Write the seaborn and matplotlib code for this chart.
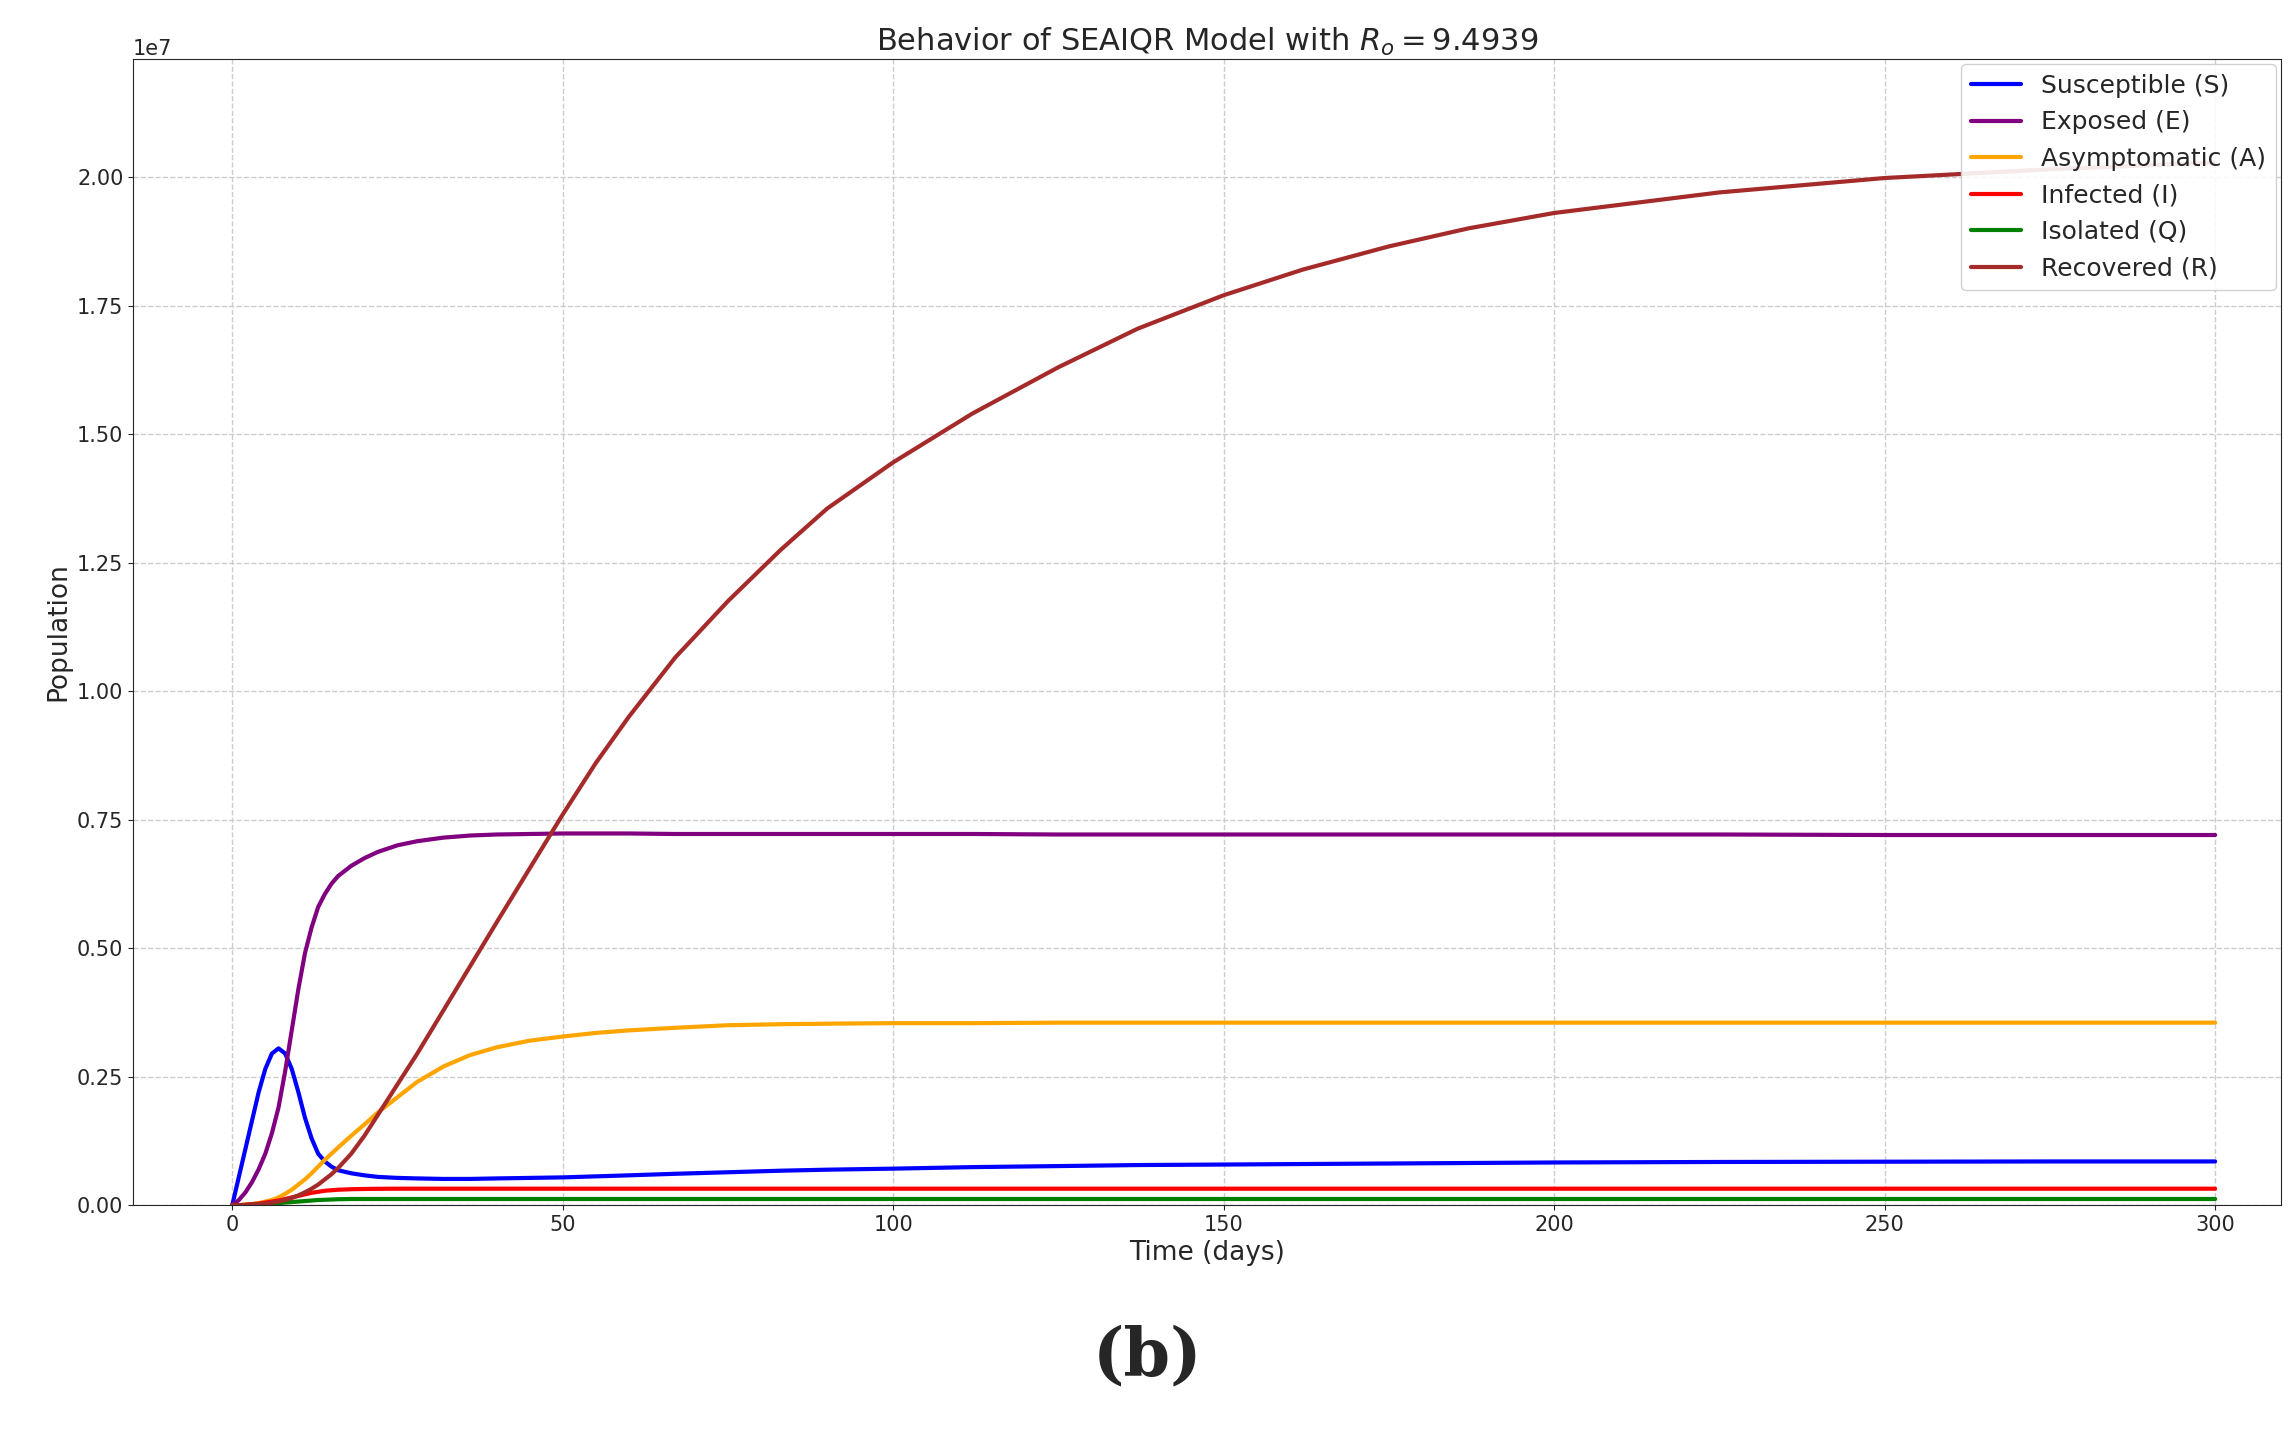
import matplotlib
matplotlib.use("Agg")
import matplotlib.pyplot as plt
import seaborn as sns
import pandas as pd

t = [0, 1, 2, 3, 4, 5, 6, 7, 8, 9, 10, 11, 12, 13, 14, 15, 16, 18, 20, 22, 25, 28, 32, 36, 40, 45, 50, 55, 60, 67, 75, 83, 90, 100, 112, 125, 137, 150, 162, 175, 187, 200, 225, 250, 275, 300]
S = [0.0, 0.55, 1.1, 1.65, 2.2, 2.65, 2.95, 3.05, 2.95, 2.65, 2.2, 1.7, 1.3, 1.0, 0.85, 0.75, 0.68, 0.62, 0.58, 0.55, 0.53, 0.52, 0.51, 0.51, 0.52, 0.53, 0.54, 0.56, 0.58, 0.61, 0.64, 0.67, 0.69, 0.71, 0.74, 0.76, 0.78, 0.79, 0.80, 0.81, 0.82, 0.83, 0.84, 0.845, 0.85, 0.85]
E = [0.0, 0.1, 0.25, 0.45, 0.7, 1.0, 1.4, 1.9, 2.6, 3.4, 4.2, 4.9, 5.4, 5.8, 6.05, 6.25, 6.4, 6.6, 6.75, 6.87, 7.0, 7.08, 7.15, 7.19, 7.21, 7.22, 7.23, 7.23, 7.23, 7.22, 7.22, 7.22, 7.22, 7.22, 7.22, 7.21, 7.21, 7.21, 7.21, 7.21, 7.21, 7.21, 7.21, 7.20, 7.20, 7.20]
A = [0.0, 0.0, 0.01, 0.02, 0.04, 0.07, 0.1, 0.15, 0.22, 0.3, 0.4, 0.5, 0.62, 0.75, 0.88, 1.0, 1.12, 1.35, 1.57, 1.8, 2.1, 2.4, 2.7, 2.92, 3.07, 3.2, 3.28, 3.35, 3.4, 3.45, 3.5, 3.52, 3.53, 3.54, 3.54, 3.55, 3.55, 3.55, 3.55, 3.55, 3.55, 3.55, 3.55, 3.55, 3.55, 3.55]
I = [0.0, 0.0, 0.01, 0.02, 0.03, 0.05, 0.07, 0.09, 0.12, 0.15, 0.18, 0.21, 0.24, 0.26, 0.28, 0.29, 0.30, 0.31, 0.315, 0.318, 0.32, 0.32, 0.32, 0.32, 0.32, 0.32, 0.32, 0.32, 0.32, 0.32, 0.32, 0.32, 0.32, 0.32, 0.32, 0.32, 0.32, 0.32, 0.32, 0.32, 0.32, 0.32, 0.32, 0.32, 0.32, 0.32]
Q = [0.0, 0.0, 0.0, 0.01, 0.01, 0.02, 0.03, 0.04, 0.05, 0.06, 0.07, 0.08, 0.09, 0.1, 0.105, 0.11, 0.115, 0.12, 0.12, 0.12, 0.12, 0.12, 0.12, 0.12, 0.12, 0.12, 0.12, 0.12, 0.12, 0.12, 0.12, 0.12, 0.12, 0.12, 0.12, 0.12, 0.12, 0.12, 0.12, 0.12, 0.12, 0.12, 0.12, 0.12, 0.12, 0.12]
R = [0.0, 0.0, 0.0, 0.01, 0.02, 0.03, 0.05, 0.07, 0.1, 0.14, 0.19, 0.25, 0.32, 0.4, 0.5, 0.6, 0.72, 1.0, 1.35, 1.75, 2.35, 2.95, 3.8, 4.65, 5.5, 6.55, 7.6, 8.6, 9.5, 10.65, 11.75, 12.75, 13.55, 14.45, 15.4, 16.3, 17.05, 17.7, 18.2, 18.65, 19.0, 19.3, 19.7, 19.98, 20.15, 20.28]

series = [("Susceptible (S)", S, "blue"), ("Exposed (E)", E, "purple"),
          ("Asymptomatic (A)", A, "orange"), ("Infected (I)", I, "red"),
          ("Isolated (Q)", Q, "green"), ("Recovered (R)", R, "brown")]

sns.set_style("ticks")
plt.rcParams['font.family'] = ['DejaVu Sans']
fig = plt.figure(figsize=(22.95, 14.33), dpi=100)
ax = fig.add_axes([0.058, 0.159, 0.936, 0.8])
for name, vals, c in series:
    df = pd.DataFrame({"t": t, "v": [v * 1e6 for v in vals]})
    sns.lineplot(data=df, x="t", y="v", ax=ax, color=c, lw=3, label=name)
ax.set_ylim(0, 2.23e7)
ax.set_xlim(-15, 310)
ax.grid(True, linestyle="--", color="#cccccc", lw=1.0)
ax.tick_params(labelsize=15)
ax.yaxis.get_offset_text().set_fontsize(15)
ax.set_xlabel("Time (days)", fontsize=19)
ax.set_ylabel("Population", fontsize=19)
ax.set_title(r"Behavior of SEAIQR Model with $R_o = 9.4939$", fontsize=22)
ax.legend(loc="upper right", fontsize=18, framealpha=0.9, borderaxespad=0.2)
fig.text(0.5, 0.04, "(b)", ha="center", fontsize=48, fontweight="bold", family="DejaVu Serif")
fig.savefig("out.png")
